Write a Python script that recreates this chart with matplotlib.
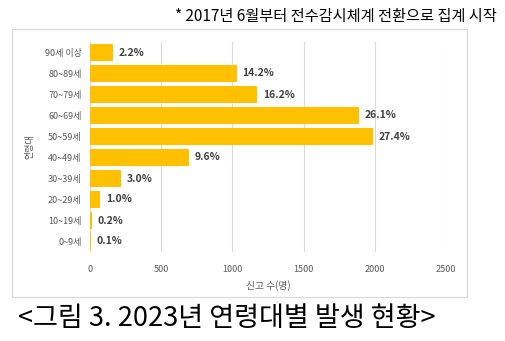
import matplotlib.pyplot as plt
from matplotlib.patches import Rectangle

plt.rcParams['font.family'] = ['Noto Sans CJK KR', 'DejaVu Sans']

ages = ['0~9세', '10~19세', '20~29세', '30~39세', '40~49세',
        '50~59세', '60~69세', '70~79세', '80~89세', '90세 이상']
counts = [7, 14, 72, 217, 696, 1985, 1891, 1174, 1029, 159]
shares = ['0.1%', '0.2%', '1.0%', '3.0%', '9.6%',
          '27.4%', '26.1%', '16.2%', '14.2%', '2.2%']
xticks = [0, 500, 1000, 1500, 2000, 2500]

fig = plt.figure(figsize=(5.05, 3.41), dpi=100)
# chart frame
fig.patches.append(Rectangle((12/505, 1-297/341), 455/505, 268/341,
                             transform=fig.transFigure, fill=False,
                             edgecolor='#D9D9D9', linewidth=0.8))

ax = fig.add_axes([90/505, 1-252/341, 356/505, 210/341])
ax.barh(range(len(ages)), counts, height=0.78, color='#FFC000', zorder=2)
for i, (c, s) in enumerate(zip(counts, shares)):
    ax.text(c + 40, i, s, va='center', ha='left', fontsize=7.5,
            fontweight='bold', color='#404040')

ax.set_xlim(0, 2500)
ax.set_ylim(-0.5, len(ages) - 0.5)
ax.set_xticks(xticks)
ax.set_xticklabels([str(t) for t in xticks])
ax.set_yticks(range(len(ages)))
ax.set_yticklabels(ages)
ax.tick_params(axis='both', length=0, labelsize=6.5, colors='#595959')
ax.tick_params(axis='x', pad=9)
ax.tick_params(axis='y', pad=6)
ax.grid(axis='x', color='#D9D9D9', linewidth=0.8, zorder=0)
for sp in ax.spines.values():
    sp.set_visible(False)
ax.set_xlabel('신고 수(명)', fontsize=7, color='#595959', labelpad=5)

fig.text(30/505, 1-147/341, '연령대', rotation=90, fontsize=6.5,
         color='#595959', ha='center', va='center')
fig.text(497/505, 1-17/341, '* 2017년 6월부터 전수감시체계 전환으로 집계 시작',
         fontsize=11, ha='right', va='center', color='black')
fig.text(18/505, 1-318/341, '<그림 3. 2023년 연령대별 발생 현황>',
         fontsize=19.5, ha='left', va='center', color='black')

fig.savefig('out.png', dpi=100)
